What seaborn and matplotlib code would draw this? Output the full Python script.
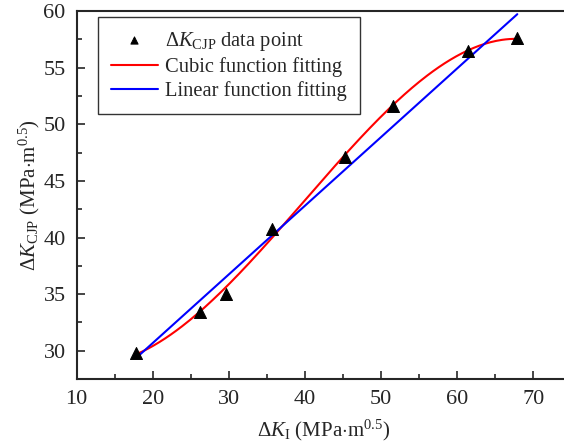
import numpy as np
import pandas as pd
import seaborn as sns
import matplotlib
matplotlib.use("Agg")
import matplotlib.pyplot as plt
from matplotlib.ticker import MultipleLocator

# data
dk_i = [17.8, 26.2, 29.6, 35.7, 45.2, 51.5, 61.4, 67.9]
dk_cjp = [29.8, 33.4, 35.0, 40.8, 47.1, 51.6, 56.5, 57.6]

sns.set_style("ticks")
plt.rcParams['font.family'] = ['Liberation Serif', 'DejaVu Serif']
plt.rcParams['mathtext.fontset'] = 'custom'
plt.rcParams['mathtext.rm'] = 'Liberation Serif'
plt.rcParams['mathtext.it'] = 'Liberation Serif:italic'

df = pd.DataFrame({'x': dk_i, 'y': dk_cjp})

# fits, same as the original: cubic and linear least squares
xf = np.linspace(min(dk_i), max(dk_i), 200)
cubic = np.polyval(np.polyfit(dk_i, dk_cjp, 3), xf)
linear = np.polyval(np.polyfit(dk_i, dk_cjp, 1), xf)

fig = plt.figure(figsize=(5.64, 4.47), dpi=100)
ax = fig.add_axes([0.136, 0.152, 0.877, 0.823])

sns.scatterplot(data=df, x='x', y='y', marker='^', s=75, color='black',
                edgecolor='black', label=r'$\Delta K_{\rm CJP}$ data point', ax=ax, zorder=3)
sns.lineplot(x=xf, y=cubic, color='red', lw=1.5, label='Cubic function fitting', ax=ax)
sns.lineplot(x=xf, y=linear, color='blue', lw=1.5, label='Linear function fitting', ax=ax)

ax.set_xlim(10, 75)
ax.set_ylim(27.5, 60)
ax.xaxis.set_major_locator(MultipleLocator(10))
ax.xaxis.set_minor_locator(MultipleLocator(5))
ax.yaxis.set_major_locator(MultipleLocator(5))
ax.yaxis.set_minor_locator(MultipleLocator(2.5))
ax.tick_params(which='both', direction='in', top=False, right=False, labelsize=16, width=1.2, pad=8)
ax.tick_params(which='major', length=6)
ax.tick_params(which='minor', length=3.5)
for s in ax.spines.values():
    s.set_linewidth(1.5)
    s.set_visible(True)

ax.set_xlabel(r'$\Delta K_{\rm I}$ (MPa$\cdot$m$^{0.5}$)', fontsize=15, labelpad=6)
ax.set_ylabel(r'$\Delta K_{\rm CJP}$ (MPa$\cdot$m$^{0.5}$)', fontsize=15, labelpad=1)

leg = ax.legend(loc='upper left', bbox_to_anchor=(0.043, 0.984), fontsize=14.8, frameon=True,
                fancybox=False, edgecolor='black', handlelength=2.3, borderpad=0.62,
                labelspacing=0.2, handletextpad=0.35, markerscale=0.6, borderaxespad=0)
leg.get_frame().set_linewidth(1.0)

fig.savefig('out.png', dpi=100)
